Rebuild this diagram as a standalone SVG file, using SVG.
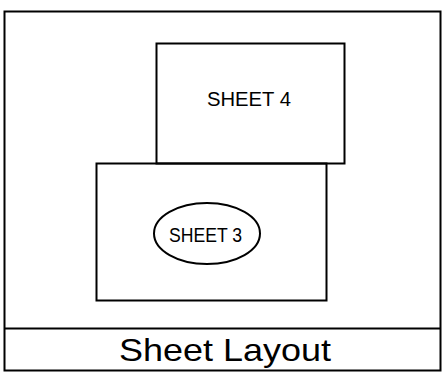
<svg xmlns="http://www.w3.org/2000/svg" width="442" height="381" viewBox="0 0 442 381">
<style>
.s{fill:none;stroke:#000;stroke-width:2}
.t{font-family:"Liberation Sans",Arial,sans-serif;fill:#000}
</style>
<rect width="442" height="381" fill="#fff"/>
<g id="frame">
<rect class="s" x="4.5" y="11.5" width="436" height="359"/>
<line class="s" x1="4.5" y1="328.5" x2="440.5" y2="328.5"/>
<text class="t" x="225" y="361" font-size="32" text-anchor="middle" textLength="212" lengthAdjust="spacingAndGlyphs">Sheet  Layout</text>
</g>
<g id="sheet4">
<rect class="s" x="156.5" y="43.5" width="188" height="120"/>
<text class="t" x="249" y="106" font-size="21" text-anchor="middle" textLength="84" lengthAdjust="spacingAndGlyphs">SHEET  4</text>
</g>
<g id="sheet3">
<rect class="s" x="96.5" y="163.5" width="230" height="137" fill="#fff"/>
<ellipse class="s" cx="207" cy="233.5" rx="53" ry="30.5"/>
<text class="t" x="205.5" y="242" font-size="21" text-anchor="middle" textLength="73" lengthAdjust="spacingAndGlyphs">SHEET 3</text>
</g>
<g id="connectors"/>
</svg>
